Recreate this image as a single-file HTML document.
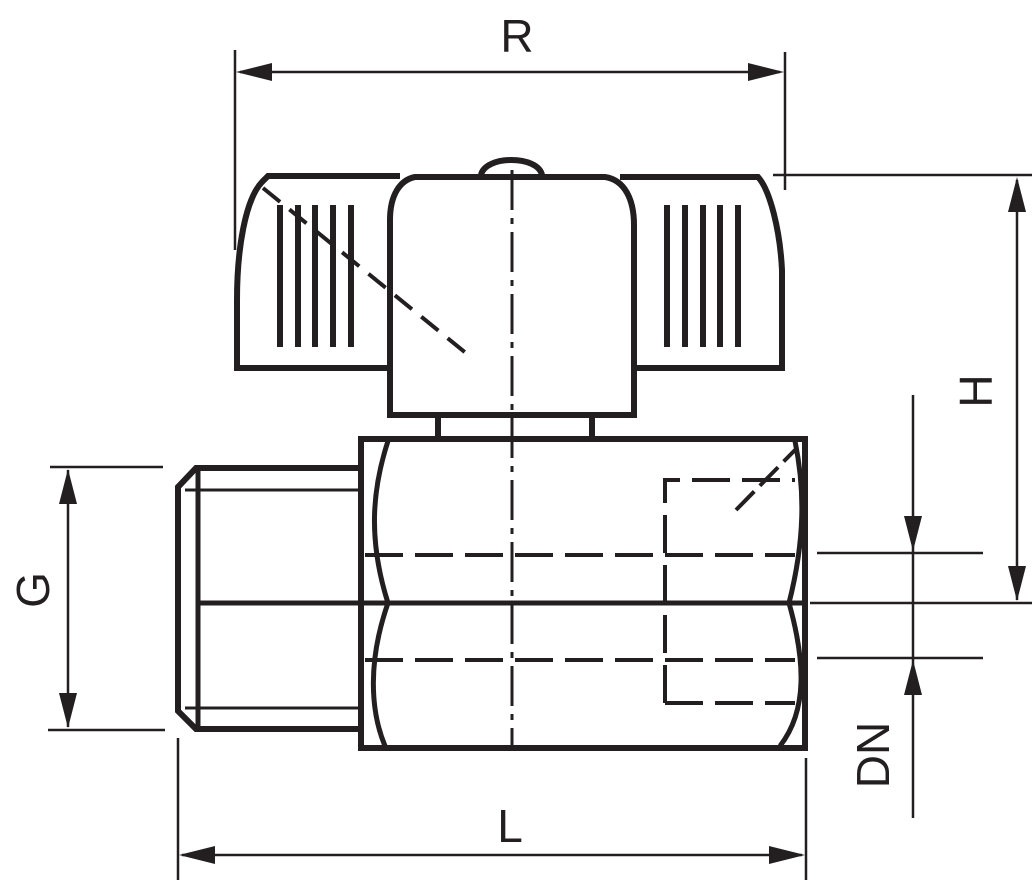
<!DOCTYPE html>
<html><head><meta charset="utf-8"><style>
html,body{margin:0;padding:0;background:#fff;}
svg{display:block}
text{font-family:"Liberation Sans",sans-serif;fill:#231f20}
</style></head><body>
<svg width="1034" height="886" viewBox="0 0 1034 886" xmlns="http://www.w3.org/2000/svg">
<g stroke="#231f20" fill="none" stroke-linecap="butt">
<!-- Handle left wing -->
<path d="M388 368 L237 368 L237 300 C237 250 245 200 262 182 L268 176 L400 176" stroke-width="6"/>
<!-- right wing -->
<path d="M620 177 L758 177 C770 190 780 230 782 270 L782 368 L637 368" stroke-width="6"/>
<!-- cap -->
<path d="M390 415 L390 220 C390 195 400 180 415 177 L605 177 C625 180 634 200 634 225 L634 415 Z" stroke-width="6"/>
<path d="M481 175 C485 155 538 155 542 175" stroke-width="6"/>
<!-- ribs -->
<g stroke-width="6">
<line x1="280" y1="205" x2="280" y2="347"/><line x1="298" y1="205" x2="298" y2="347"/><line x1="315" y1="205" x2="315" y2="347"/><line x1="333" y1="205" x2="333" y2="347"/><line x1="351" y1="205" x2="351" y2="347"/>
<line x1="667" y1="205" x2="667" y2="347"/><line x1="685" y1="205" x2="685" y2="347"/><line x1="703" y1="205" x2="703" y2="347"/><line x1="720" y1="205" x2="720" y2="347"/><line x1="738" y1="205" x2="738" y2="347"/>
</g>
<!-- dashed diagonal handle -->
<line x1="263" y1="188" x2="472" y2="358" stroke-width="4" stroke-dasharray="22,12"/>
<!-- stem -->
<line x1="438" y1="415" x2="438" y2="438" stroke-width="6"/>
<line x1="592" y1="415" x2="592" y2="438" stroke-width="6"/>
<!-- body -->
<rect x="361" y="439" width="444" height="309" stroke-width="6"/>
<path d="M388 441 C372 490 368 540 388 603 C368 660 370 710 385 746" stroke-width="5"/>
<path d="M795 441 C805 490 805 540 789 603 C805 660 808 710 780 746" stroke-width="5"/>
<!-- male thread -->
<path d="M360 468 L196 468 L178 487 L178 711 L196 729 L360 729" stroke-width="6"/>
<line x1="198" y1="468" x2="198" y2="729" stroke-width="5"/>
<line x1="185" y1="490" x2="360" y2="490" stroke-width="3"/>
<line x1="185" y1="708" x2="360" y2="708" stroke-width="3"/>
<!-- center line horizontal -->
<line x1="200" y1="603" x2="805" y2="603" stroke-width="5"/>
<!-- dashed lines -->
<line x1="365" y1="555" x2="795" y2="555" stroke-width="4" stroke-dasharray="38,12"/>
<line x1="365" y1="660" x2="795" y2="660" stroke-width="4" stroke-dasharray="38,12"/>
<path d="M665 703 L665 480 L795 480" stroke-width="4" stroke-dasharray="38,12"/>
<line x1="665" y1="703" x2="795" y2="703" stroke-width="4" stroke-dasharray="38,12"/>
<line x1="736" y1="510" x2="795" y2="450" stroke-width="4" stroke-dasharray="26,8"/>
<!-- vertical center dash-dot -->
<line x1="512" y1="170" x2="512" y2="745" stroke-width="3" stroke-dasharray="40,8,6,8"/>
<!-- dimension lines -->
<g stroke-width="2.5">
<line x1="235" y1="50" x2="235" y2="250"/><line x1="785" y1="52" x2="785" y2="190"/>
<line x1="240" y1="72" x2="780" y2="72"/>
<line x1="773" y1="175" x2="1032" y2="175"/>
<line x1="1017" y1="180" x2="1017" y2="600"/>
<line x1="810" y1="603" x2="1032" y2="603"/>
<line x1="817" y1="553" x2="983" y2="553"/>
<line x1="817" y1="658" x2="983" y2="658"/>
<line x1="913" y1="395" x2="913" y2="818"/>
<line x1="50" y1="467" x2="163" y2="467"/><line x1="48" y1="730" x2="165" y2="730"/>
<line x1="68" y1="470" x2="68" y2="727"/>
<line x1="178" y1="738" x2="178" y2="880"/><line x1="806" y1="758" x2="806" y2="880"/>
<line x1="182" y1="855" x2="802" y2="855"/>
</g>
</g>
<g fill="#231f20">
<polygon points="236,72 272,63 272,81"/>
<polygon points="784,72 748,63 748,81"/>
<polygon points="1017,177 1008,212 1026,212"/>
<polygon points="1017,601 1008,566 1026,566"/>
<polygon points="913,551 904,516 922,516"/>
<polygon points="913,660 904,695 922,695"/>
<polygon points="68,469 59,504 77,504"/>
<polygon points="68,728 59,693 77,693"/>
<polygon points="179,855 215,846 215,864"/>
<polygon points="805,855 769,846 769,864"/>
</g>
<text x="517" y="52" font-size="46" text-anchor="middle">R</text>
<text x="510" y="842" font-size="46" text-anchor="middle">L</text>
<text transform="translate(992,391) rotate(-90)" font-size="46" text-anchor="middle">H</text>
<text transform="translate(49,590) rotate(-90)" font-size="46" text-anchor="middle">G</text>
<text transform="translate(889,755) rotate(-90)" font-size="46" text-anchor="middle">DN</text>
</svg>
</body></html>
